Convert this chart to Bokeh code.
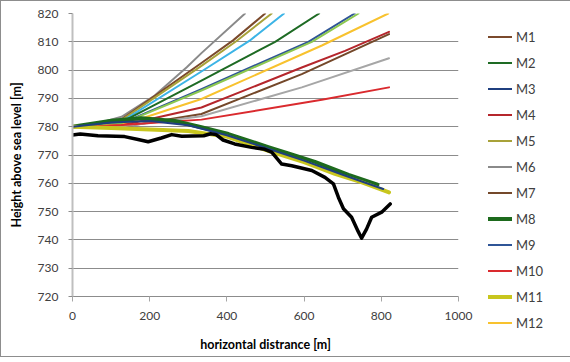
from bokeh.plotting import figure
from bokeh.models import Legend, LegendItem, Range1d, FixedTicker
from bokeh.embed import file_html
from bokeh.resources import INLINE

# ---- axes ----
x_ticks = [0, 200, 400, 600, 800, 1000]
y_ticks = [720, 730, 740, 750, 760, 770, 780, 790, 800, 810, 820]

# ---- rising trajectories ----
m6_x = [0, 60, 127, 213, 296, 334, 447]
m6_y = [780, 781, 783.5, 791, 801, 806, 820]
m1_x = [0, 60, 127, 334, 416, 499]
m1_y = [780, 780.9, 782.6, 802.5, 810.5, 820]
m5_x = [0, 60, 127, 334, 425, 516]
m5_y = [780, 780.8, 782.3, 801.5, 810.3, 820]
m13_x = [0, 60, 127, 334, 458, 548]
m13_y = [780, 780.6, 781.8, 799.5, 810.3, 820]
m2_x = [0, 60, 127, 334, 525, 639]
m2_y = [780, 780.6, 781.6, 796.3, 810, 820]
m9_x = [0, 60, 127, 334, 611, 731]
m9_y = [780, 780.5, 781.2, 793.3, 810, 820]
m14_x = [0, 60, 127, 334, 620, 741]
m14_y = [780, 780.4, 781, 792.8, 810, 820]
m12_x = [0, 60, 127, 334, 646, 818]
m12_y = [780, 780.2, 780.6, 789.8, 808.7, 820]
m4_x = [0, 60, 127, 334, 594, 706, 820]
m4_y = [780, 780.1, 780.4, 786.8, 800.9, 806.8, 813.5]
m7_x = [0, 60, 127, 334, 594, 820]
m7_y = [780, 779.8, 779.9, 784.5, 798.6, 812.7]
m15_x = [0, 60, 127, 334, 594, 820]
m15_y = [780, 779.9, 780.1, 783.7, 793.9, 804.2]
m10_x = [0, 60, 127, 334, 646, 820]
m10_y = [780, 780.2, 780.6, 782.5, 789.5, 793.9]

# ---- falling trajectories ----
m8_x = [0, 101, 179, 265, 334, 404, 507, 559, 628, 715, 790]
m8_y = [780, 782.1, 783, 782, 779.8, 777.4, 772.8, 770.6, 767.6, 763, 759.5]
m3_x = [0, 100, 200, 300, 400, 507, 600, 700, 805]
m3_y = [780, 781.5, 782, 780.5, 777, 772.2, 768, 763, 758]
m11_x = [0, 100, 200, 300, 400, 507, 600, 680, 750, 820]
m11_y = [780, 779.5, 779, 778.5, 776.5, 771.5, 767.5, 763.3, 760.3, 756.8]

# ---- terrain ----
terrain_x = [0, 20, 66, 135, 170, 196, 230, 257, 283, 340, 358, 372, 390, 420,
             464, 498, 516, 542, 568, 590, 620, 654, 676, 689, 702, 723, 740,
             749, 762, 775, 801, 823]
terrain_y = [777.1, 777.4, 776.8, 776.5, 775.5, 774.7, 776, 777.2, 776.6, 776.8,
             777.5, 777.2, 775.3, 773.9, 772.7, 772, 771, 766.8, 766.2, 765.5,
             764.5, 762.1, 759.8, 755, 751, 748, 743, 740.6, 743.9, 748, 749.8,
             752.7]

series = [
    ("M6", m6_x, m6_y, "#8A8A8A", 2),
    ("M1", m1_x, m1_y, "#7B4A2C", 2),
    ("M5", m5_x, m5_y, "#A8A239", 2),
    ("M13", m13_x, m13_y, "#3CB4E6", 2),
    ("M2", m2_x, m2_y, "#1E6B24", 2),
    ("M9", m9_x, m9_y, "#2F5597", 2),
    ("M14", m14_x, m14_y, "#8DC850", 2),
    ("M12", m12_x, m12_y, "#F8C22E", 2),
    ("M4", m4_x, m4_y, "#B5262C", 2),
    ("M7", m7_x, m7_y, "#74482A", 2),
    ("M15", m15_x, m15_y, "#A6A6A6", 2),
    ("M10", m10_x, m10_y, "#DA2A2E", 2),
    ("M8", m8_x, m8_y, "#1D6A1D", 4),
    ("M11", m11_x, m11_y, "#C8C61E", 4),
    ("M3", m3_x, m3_y, "#1F3F7F", 2),
]
legend_order = ["M1", "M2", "M3", "M4", "M5", "M6", "M7", "M8", "M9", "M10", "M11", "M12"]

FONT = "Lato"

p = figure(frame_width=386, frame_height=283, output_backend="svg", toolbar_location=None,
           x_range=Range1d(0, 1000), y_range=Range1d(720, 820),
           min_border_left=71, min_border_right=110, min_border_top=12,
           min_border_bottom=60)
p.styles = {"border": "1px solid #8D8D8D"}
p.outline_line_color = None
p.background_fill_color = "white"
p.border_fill_color = "white"

p.xgrid.visible = False
p.ygrid.ticker = FixedTicker(ticks=y_ticks)
p.ygrid.grid_line_color = "#8C8C8C"
p.ygrid.grid_line_width = 1

p.xaxis.ticker = FixedTicker(ticks=x_ticks)
p.yaxis.ticker = FixedTicker(ticks=y_ticks)
for ax in (p.xaxis[0], p.yaxis[0]):
    ax.minor_tick_line_color = None
    ax.major_tick_in = 0
    ax.major_label_text_font = FONT
    ax.major_label_text_font_size = "12px"
    ax.major_label_text_color = "#404040"
    ax.axis_label_text_font = FONT
    ax.axis_label_text_font_style = "bold"
    ax.axis_label_text_font_size = "12.5px"
    ax.axis_label_text_color = "#000000"

p.yaxis.axis_line_color = "#BFBFBF"
p.yaxis.axis_line_width = 2
p.yaxis.major_tick_line_color = "#8C8C8C"
p.yaxis.major_tick_out = 4
p.yaxis.major_label_standoff = 10
p.yaxis.axis_label = "Height above sea level [m]"
p.yaxis.axis_label_standoff = 11

p.xaxis.axis_line_color = "#8C8C8C"
p.xaxis.axis_line_width = 1
p.xaxis.major_tick_line_color = "#A6A6A6"
p.xaxis.major_tick_out = 5
p.xaxis.major_label_standoff = 10
p.xaxis.axis_label = "horizontal distrance [m]"
p.xaxis.axis_label_standoff = 14

renderers = {}
for name, xs, ys, color, w in series:
    r = p.line(xs, ys, line_color=color, line_width=w, line_join="round", line_cap="round")
    renderers[name] = r

p.line(terrain_x, terrain_y, line_color="#000000", line_width=3.5, line_join="round", line_cap="round")

items = [LegendItem(label=n, renderers=[renderers[n]]) for n in legend_order]
legend = Legend(items=items, location=(30, -37), glyph_width=24, glyph_height=21,
                label_height=21, spacing=5, padding=0, margin=0,
                border_line_color=None, background_fill_alpha=0,
                label_standoff=4, label_text_font=FONT, label_text_font_size="13px",
                label_text_color="#404040")
p.add_layout(legend, "right")

open("out.html", "w").write(file_html(p, INLINE))
